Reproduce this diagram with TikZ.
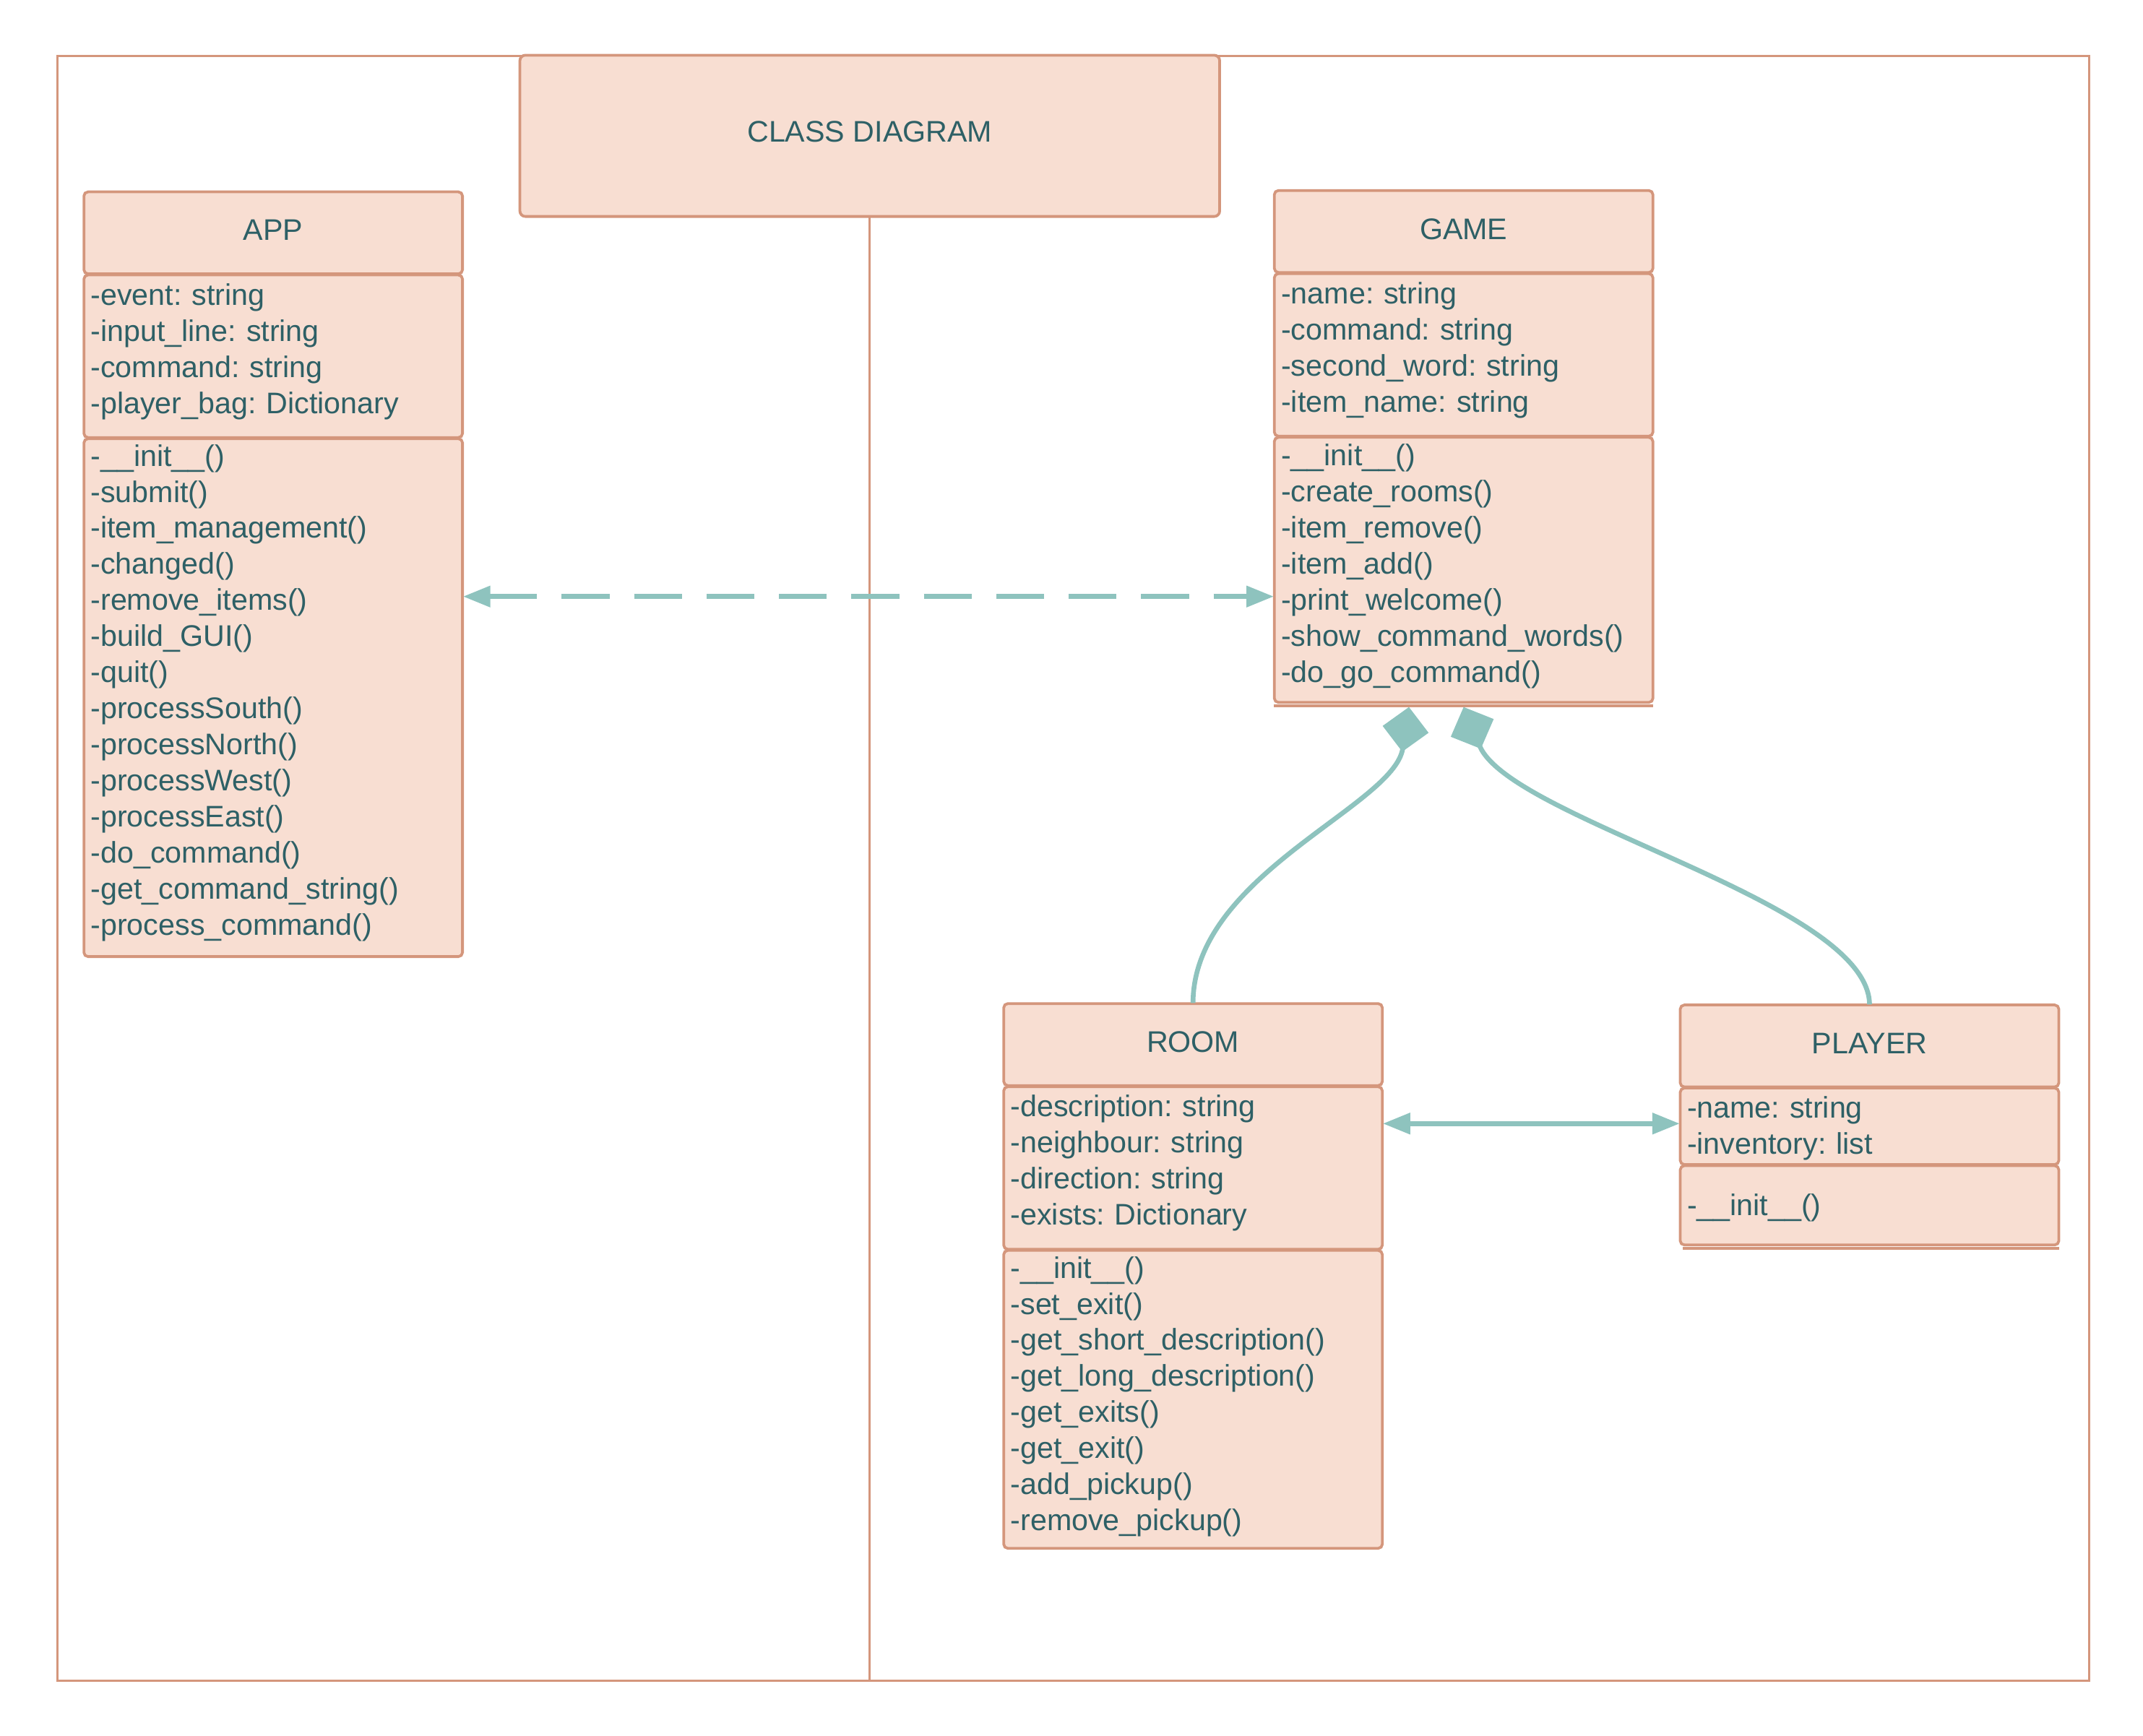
\documentclass[tikz,border=0pt]{standalone}
\usepackage{fontspec}
\setmainfont{Liberation Sans}
\usetikzlibrary{arrows.meta,positioning}

\definecolor{boxfill}{RGB}{248,222,210}
\definecolor{boxline}{RGB}{212,150,124}
\definecolor{txt}{RGB}{46,96,102}
\definecolor{link}{RGB}{142,195,190}

\begin{document}
\begin{tikzpicture}[
  x=1pt, y=-1pt,
  font=\fontsize{21.8pt}{26.4pt}\selectfont\frenchspacing,
  comp/.style={draw=boxline, fill=boxfill, line width=2pt, outer sep=0.4pt, rounded corners=3pt, text=txt, minimum width=277pt, inner xsep=5pt, inner ysep=0pt},
  head/.style={comp, minimum height=60pt, align=center, text depth=4pt},
  list/.style={comp, align=left, text width=267pt, execute at end node={\endgraf\nointerlineskip\vskip#1\hbox{}}},
  list/.default=7pt,
  rule/.style={draw=boxline, line width=2pt},
  sheet/.style={draw=boxline, line width=1.6pt},
  dep/.style={draw=link, line width=3.5pt, dash pattern=on 35pt off 18pt, {Triangle[length=20pt,width=15pt]}-{Triangle[length=20pt,width=15pt]}},
  assoc/.style={draw=link, line width=3.5pt, {Triangle[length=20pt,width=15pt]}-{Triangle[length=20pt,width=15pt]}},
  compo/.style={draw=link, line width=3.5pt, {Diamond[length=33pt,width=34pt]}-}
]
\useasboundingbox (0,0) rectangle (1568,1270);

% frame and title
\node[sheet, minimum width=1487pt, minimum height=1189pt, anchor=north west, inner sep=0pt] (sheet) at (41,40) {};
\node[comp, minimum width=512pt, minimum height=118pt, rounded corners=4pt, text depth=6pt, anchor=north west] (title) at (380,40) {CLASS DIAGRAM};
\draw[sheet] (title.south) -- (title.south |- sheet.south);

% APP
\node[head, anchor=north west] (app) at (61,140) {APP};
\node[list, below=0pt of app, minimum height=119pt] (appattr) {-event: string\\-input\_line: string\\-command: string\\-player\_bag: Dictionary};
\node[list, below=0pt of appattr, minimum height=379pt] (appmeth) {-\_\_init\_\_()\\-submit()\\-item\_management()\\-changed()\\-remove\_items()\\-build\_GUI()\\-quit()\\-processSouth()\\-processNorth()\\-processWest()\\-processEast()\\-do\_command()\\-get\_command\_string()\\-process\_command()};

% GAME
\node[head, anchor=north west] (game) at (932,139) {GAME};
\node[list, below=0pt of game, minimum height=119pt] (gameattr) {-name: string\\-command: string\\-second\_word: string\\-item\_name: string};
\node[list=5pt, below=0pt of gameattr, minimum height=194pt] (gamemeth) {-\_\_init\_\_()\\-create\_rooms()\\-item\_remove()\\-item\_add()\\-print\_welcome()\\-show\_command\_words()\\-do\_go\_command()};
\draw[rule] ([yshift=-2pt]gamemeth.south west) -- ([yshift=-2pt]gamemeth.south east);
\coordinate (gamebase) at ([yshift=-3pt]gamemeth.south);

% ROOM
\node[head, anchor=north west] (room) at (734,734) {ROOM};
\node[list, below=0pt of room, minimum height=119pt] (roomattr) {-description: string\\-neighbour: string\\-direction: string\\-exists: Dictionary};
\node[list=4pt, below=0pt of roomattr, minimum height=218pt] (roommeth) {-\_\_init\_\_()\\-set\_exit()\\-get\_short\_description()\\-get\_long\_description()\\-get\_exits()\\-get\_exit()\\-add\_pickup()\\-remove\_pickup()};

% PLAYER
\node[head, anchor=north west] (player) at (1229,735) {PLAYER};
\node[list=-3pt, below=0pt of player, minimum height=56pt] (playerattr) {-name: string\\-inventory: list};
\node[list=-4pt, below=0pt of playerattr, minimum height=58pt] (playermeth) {-\_\_init\_\_()};
\draw[rule] ([xshift=2pt,yshift=-2pt]playermeth.south west) -- ([yshift=-2pt]playermeth.south east);

% connectors
\draw[dep] ([yshift=74pt]appmeth.east) -- ([yshift=74pt]appmeth.east -| gamemeth.west);
\draw[assoc] ([yshift=2pt]playerattr.west -| roomattr.east) -- ([yshift=2pt]playerattr.west);
\draw[compo] ([xshift=-40pt]gamebase) .. controls (1020,590) and (873,640) .. (room.north);
\draw[compo] (gamebase) .. controls (1105,600) and (1367,660) .. (player.north);
\end{tikzpicture}
\end{document}
